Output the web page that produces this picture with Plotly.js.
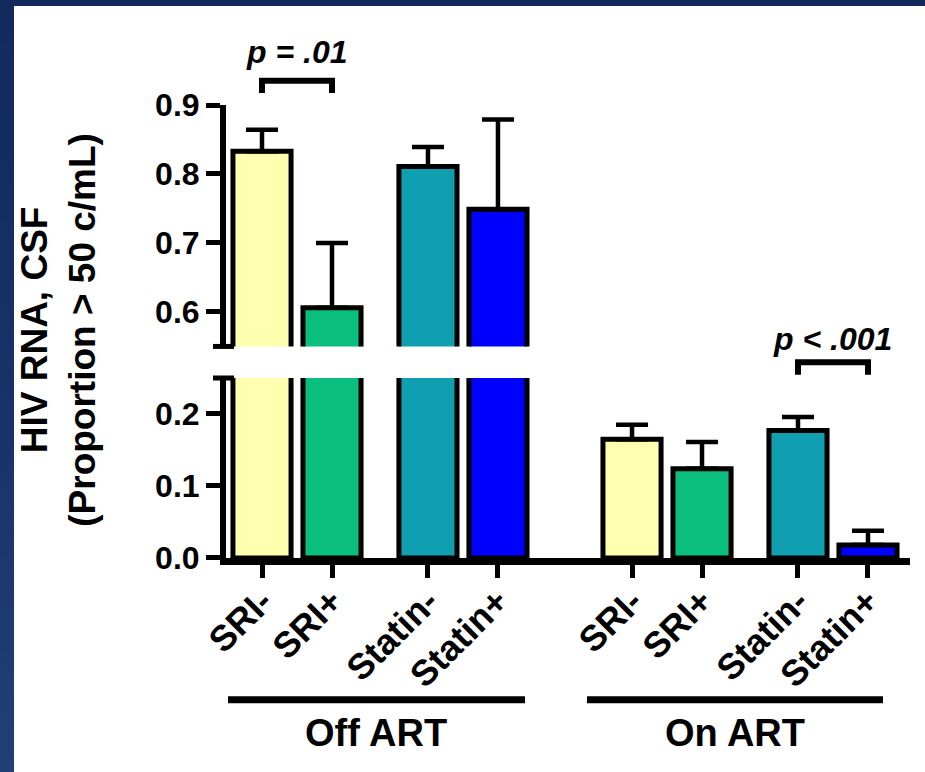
<!DOCTYPE html>
<html>
<head>
<meta charset="utf-8">
<script src="https://cdn.plot.ly/plotly-3.0.1.min.js"></script>
<style>
  html, body { margin: 0; padding: 0; width: 925px; height: 772px; overflow: hidden;
    background: linear-gradient(180deg, #122a5b 0%, #18336a 55%, #213f76 100%); }
  #chart { position: absolute; left: 14px; top: 6px; width: 911px; height: 766px; background: #fff; }
</style>
</head>
<body>
<div id="chart"></div>
<script>
// CSF HIV RNA: proportion of participants above 50 copies/mL, by treatment group
const groups = ['Off ART', 'On ART'];
const conditions = ['SRI-', 'SRI+', 'Statin-', 'Statin+'];
const offArtValues = [0.833, 0.606, 0.811, 0.749];
const offArtErrors = [0.031, 0.094, 0.028, 0.130];
const onArtValues = [0.165, 0.124, 0.177, 0.018];
const onArtErrors = [0.020, 0.037, 0.019, 0.020];
const conditionColors = ['#ffffb0', '#0abe80', '#109fb0', '#0000ff'];
const lowerTicks = [0.0, 0.1, 0.2];
const upperTicks = [0.6, 0.7, 0.8, 0.9];
const comparisons = [
  { group: 'Off ART', from: 'SRI-', to: 'SRI+', label: 'p = .01' },
  { group: 'On ART', from: 'Statin-', to: 'Statin+', label: 'p < .001' }
];

// ---- slot layout along the x axis (bars come in pairs, pairs in groups)
const PAIR_STEP = 2.371;
const GROUP_STEP = 5.286;
function slot(g, c) { return g * GROUP_STEP + Math.floor(c / 2) * PAIR_STEP + (c % 2); }

const xs = [], labels = [], colors = [], vals = [], errs = [];
const groupValues = [offArtValues, onArtValues];
const groupErrors = [offArtErrors, onArtErrors];
groups.forEach((g, gi) => {
  conditions.forEach((c, ci) => {
    xs.push(slot(gi, ci));
    labels.push(c);
    colors.push(conditionColors[ci]);
    vals.push(groupValues[gi][ci]);
    errs.push(groupErrors[gi][ci]);
  });
});

// ---- frame geometry (page pixels -> paper fractions)
const OFF_X = 14, OFF_Y = 6, W = 911, H = 766;
const PL = 226 - OFF_X, PR = 910 - OFF_X, PT = 105 - OFF_Y, PB = 558.5 - OFF_Y;
const PW = PR - PL, PH = PB - PT;
const px = X => (X - OFF_X - PL) / PW;
const py = Y => (PB - (Y - OFF_Y)) / PH;
const UNIT = 70;                       // pixels per slot
const X0 = 262;                        // page x of the first bar centre
const xRange = [(PL + OFF_X - X0) / UNIT, (PR + OFF_X - X0) / UNIT];

const FONT = 'Liberation Sans, Arial, Helvetica, sans-serif';
const black = '#000';

const barStyle = {
  type: 'bar', x: xs, y: vals, width: 0.83,
  marker: { color: colors, line: { color: black, width: 5 } },
  error_y: { type: 'data', array: errs, arrayminus: errs.map(() => 0), symmetric: false,
             color: black, thickness: 4.5, width: 16 },
  hoverinfo: 'x+y', showlegend: false
};

// the same bars on both halves of the broken axis
const traces = [
  Object.assign({}, barStyle, { xaxis: 'x', yaxis: 'y' }),
  Object.assign({}, barStyle, { xaxis: 'x', yaxis: 'y2' })
];

const yCommon = {
  showline: true, linecolor: black, linewidth: 6,
  ticks: 'outside', ticklen: 14, tickwidth: 5, tickcolor: black,
  showgrid: false, zeroline: false, tickformat: '.1f',
  tickfont: { family: FONT, size: 32, color: black, weight: 'bold' },
  anchor: 'x', fixedrange: true
};

const lowerTop = py(378.3), upperBottom = py(346.7);

const shapes = [];
const annotations = [];

// break caps on the y axis
[346.7, 378.3].forEach(Y => {
  shapes.push({ type: 'line', xref: 'paper', yref: 'paper',
    x0: px(213), x1: px(234), y0: py(Y), y1: py(Y),
    line: { color: black, width: 5 } });
});

// significance brackets
const bracketRows = { 'Off ART': [80.7, 93, 52], 'On ART': [362.5, 375, 339] };
comparisons.forEach(cmp => {
  const gi = groups.indexOf(cmp.group);
  const xa = slot(gi, conditions.indexOf(cmp.from));
  const xb = slot(gi, conditions.indexOf(cmp.to));
  const [top, foot, textY] = bracketRows[cmp.group];
  shapes.push({ type: 'path', xref: 'x', yref: 'paper',
    path: `M ${xa},${py(foot)} L ${xa},${py(top)} L ${xb},${py(top)} L ${xb},${py(foot)}`,
    line: { color: black, width: 6 } });
  annotations.push({ xref: 'x', yref: 'paper', x: (xa + xb) / 2, y: py(textY),
    xanchor: 'center', yanchor: 'middle', showarrow: false,
    text: '<b><i>' + cmp.label + '</i></b>',
    font: { family: FONT, size: 32, color: black } });
});

// group underlines and labels
const underlineExtent = [[-0.486, 0.386], [-0.643, 0.214]];
groups.forEach((g, gi) => {
  const first = slot(gi, 0), last = slot(gi, conditions.length - 1);
  const x0 = first + underlineExtent[gi][0], x1 = last + underlineExtent[gi][1];
  shapes.push({ type: 'line', xref: 'x', yref: 'paper', x0: x0, x1: x1,
    y0: py(700.5), y1: py(700.5), line: { color: black, width: 7 } });
  annotations.push({ xref: 'x', yref: 'paper', x: (x0 + x1) / 2, y: py(734),
    xanchor: 'center', yanchor: 'middle', showarrow: false, text: g,
    font: { family: FONT, size: 38, color: black, weight: 'bold' } });
});

// y axis title
annotations.push({ xref: 'paper', yref: 'paper', x: px(59), y: py(330),
  xanchor: 'center', yanchor: 'middle', showarrow: false, textangle: -90,
  text: 'HIV RNA, CSF<br>(Proportion > 50 c/mL)',
  font: { family: FONT, size: 37, color: black, weight: 'bold' } });

const layout = {
  width: W, height: H,
  margin: { l: PL, r: W - PR, t: PT, b: H - PB, pad: 0 },
  paper_bgcolor: '#ffffff', plot_bgcolor: 'rgba(0,0,0,0)',
  font: { family: FONT, color: black },
  bargap: 0,
  xaxis: {
    range: xRange, anchor: 'y', showline: true, linecolor: black, linewidth: 7,
    ticks: 'outside', ticklen: 13, tickwidth: 5, tickcolor: black,
    tickvals: xs, ticktext: labels, tickangle: -45, ticklabelstandoff: -12,
    tickfont: { family: FONT, size: 36, color: black, weight: 'bold' },
    showgrid: false, zeroline: false, fixedrange: true
  },
  yaxis: Object.assign({}, yCommon, { domain: [0, lowerTop], range: [0, 0.25], tickvals: lowerTicks }),
  yaxis2: Object.assign({}, yCommon, { domain: [upperBottom, 1], range: [0.55, 0.9], tickvals: upperTicks }),
  shapes: shapes,
  annotations: annotations
};

Plotly.newPlot('chart', traces, layout, { staticPlot: true, displayModeBar: false });
</script>
</body>
</html>
